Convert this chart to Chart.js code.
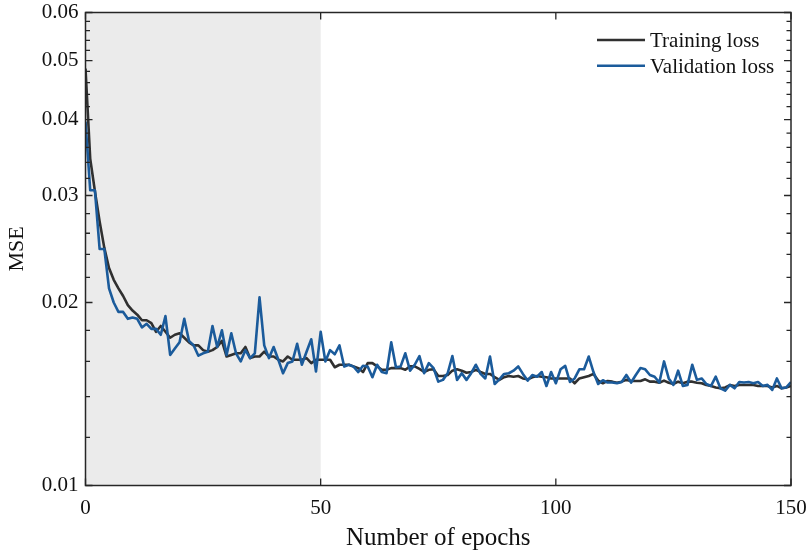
<!DOCTYPE html>
<html><head><meta charset="utf-8">
<script src="https://cdn.jsdelivr.net/npm/chart.js@4.4.0/dist/chart.umd.min.js"></script>
<style>html,body{margin:0;padding:0;background:#fff;}#wrap{width:810px;height:553px;}</style>
</head><body><div id="wrap"><canvas id="c" width="810" height="553"></canvas></div>
<script>
// ---- data ----
const epochs = Array.from({length: 151}, (_, i) => i);
const trainingLoss = [
0.0485,0.0345,0.0305,0.0272,0.0246,0.0228,0.0218,0.0211,0.0205,0.0198,
0.0194,0.0191,0.0187,0.0187,0.0185,0.0179,0.0183,0.0179,0.0175,0.0177,
0.0178,0.0175,0.0172,0.0170,0.0170,0.0167,0.0166,0.0167,0.0169,0.0173,
0.0163,0.0164,0.0165,0.0165,0.0169,0.0162,0.0163,0.0163,0.0166,0.0163,
0.0163,0.0161,0.0160,0.0163,0.0161,0.0161,0.0161,0.0162,0.0159,0.0161,
0.0161,0.0161,0.0161,0.01565,0.0158,0.0158,0.0158,0.0157,0.0156,0.01537,
0.0159,0.0159,0.0157,0.0155,0.0155,0.0156,0.0156,0.0156,0.0155,0.0157,
0.0157,0.01555,0.01537,0.0155,0.01553,0.01514,0.01514,0.0152,0.01545,0.01553,
0.01545,0.01533,0.01537,0.0155,0.01537,0.01526,0.01526,0.01507,0.01492,0.01507,
0.01514,0.0151,0.01514,0.0150,0.01495,0.01507,0.01514,0.0151,0.01507,0.0150,
0.0150,0.0150,0.0150,0.0150,0.01473,0.0150,0.01507,0.01514,0.01526,0.01488,
0.01473,0.01486,0.01482,0.01476,0.01482,0.01492,0.01486,0.01486,0.01486,0.01495,
0.01482,0.01482,0.01476,0.01488,0.01476,0.01469,0.01482,0.01473,0.01482,0.01482,
0.01476,0.01473,0.01463,0.01458,0.0145,0.01445,0.0145,0.01463,0.01458,0.01463,
0.01463,0.01463,0.01463,0.01458,0.01458,0.01458,0.0145,0.01458,0.01445,0.0145,
0.01458
];
const validationLoss = [
0.0397,0.0306,0.0306,0.0245,0.0245,0.0211,0.0200,0.0193,0.0193,0.0188,
0.0189,0.0188,0.0182,0.01845,0.0181,0.0181,0.0177,0.0190,0.0164,0.0168,
0.0172,0.0188,0.0173,0.0170,0.01635,0.0165,0.0166,0.0183,0.0169,0.0180,
0.0164,0.0178,0.0165,0.0160,0.0167,0.0162,0.0165,0.0204,0.0170,0.0162,
0.0169,0.0161,0.0153,0.0159,0.0160,0.0171,0.0158,0.0166,0.0174,0.0154,
0.0179,0.0160,0.0167,0.01644,0.0170,0.01569,0.0158,0.01569,0.01537,0.01574,
0.0157,0.01507,0.0158,0.01537,0.0153,0.0172,0.01565,0.0157,0.0165,0.01545,
0.0158,0.01633,0.0153,0.0159,0.0156,0.01482,0.01492,0.0153,0.01633,0.01492,
0.0153,0.01492,0.0153,0.0158,0.01526,0.0150,0.0163,0.01469,0.01495,0.01526,
0.0153,0.01545,0.0157,0.01526,0.01488,0.0152,0.0151,0.01537,0.01458,0.01537,
0.01473,0.01553,0.01573,0.0148,0.0150,0.01553,0.01553,0.0163,0.01537,0.01469,
0.0149,0.01477,0.01477,0.01473,0.0148,0.0152,0.01477,0.0152,0.0156,0.01553,
0.0152,0.0151,0.01477,0.0160,0.0150,0.01464,0.01545,0.01458,0.01464,0.0158,
0.01492,0.0150,0.01469,0.01458,0.0151,0.01445,0.01432,0.01464,0.01445,0.0148,
0.01477,0.0148,0.01473,0.0148,0.01458,0.01464,0.01436,0.0150,0.01445,0.0145,
0.0148
];
const seriesNames = ['Training loss', 'Validation loss'];
const yMajorTicks = [0.01, 0.02, 0.03, 0.04, 0.05, 0.06];
const yMinorTicks = [0.012,0.014,0.016,0.018,0.022,0.024,0.026,0.028,0.032,0.034,0.036,0.038,
  0.042,0.044,0.046,0.048,0.052,0.054,0.056,0.058];
const yTickLabels = ['0.01','0.02','0.03','0.04','0.05','0.06'];
const xTicks = [0, 50, 100, 150];
const shadeRange = [0, 50];

// ---- styles ----
const trainColor = '#303030';
const valColor = '#1b5b9b';
const frameColor = '#262626';
const FONT = '"Liberation Serif", "Times New Roman", serif';

const bgPlugin = {
  id: 'bgShade',
  beforeDraw(chart) {
    const {ctx} = chart;
    ctx.save(); ctx.fillStyle = '#ffffff'; ctx.fillRect(0, 0, chart.width, chart.height); ctx.restore();
  },
  beforeDatasetsDraw(chart) {
    const {ctx, chartArea: a, scales: {x}} = chart;
    const x0 = x.getPixelForValue(shadeRange[0]), x1 = x.getPixelForValue(shadeRange[1]);
    ctx.save(); ctx.fillStyle = '#ebebeb';
    ctx.fillRect(x0, a.top, x1 - x0, a.bottom - a.top);
    ctx.restore();
  },
  afterDatasetsDraw(chart) {
    const {ctx, chartArea: a, scales: {x, y}} = chart;
    ctx.save();
    ctx.strokeStyle = frameColor; ctx.lineWidth = 1.3;
    ctx.beginPath();
    const tick = (px0, py0, px1, py1) => { ctx.moveTo(px0, py0); ctx.lineTo(px1, py1); };
    yMajorTicks.forEach(v => { const p = y.getPixelForValue(v); tick(a.left, p, a.left + 7, p); tick(a.right, p, a.right - 7, p); });
    yMinorTicks.forEach(v => { const p = y.getPixelForValue(v); tick(a.left, p, a.left + 4.5, p); tick(a.right, p, a.right - 4.5, p); });
    xTicks.forEach(v => { const p = x.getPixelForValue(v); tick(p, a.bottom, p, a.bottom - 7); tick(p, a.top, p, a.top + 7); });
    ctx.stroke();
    ctx.lineWidth = 1.5;
    ctx.strokeRect(a.left, a.top, a.right - a.left, a.bottom - a.top);
    // legend
    const colors = [trainColor, valColor];
    ctx.font = '21px ' + FONT;
    ctx.textBaseline = 'alphabetic';
    ctx.fillStyle = '#111';
    seriesNames.forEach((name, i) => {
      const ly = a.top + 27.5 + i * 25.7;
      ctx.strokeStyle = colors[i]; ctx.lineWidth = 2.6;
      ctx.beginPath(); ctx.moveTo(a.right - 194, ly); ctx.lineTo(a.right - 146, ly); ctx.stroke();
      ctx.fillText(name, a.right - 141, ly + 7);
    });
    ctx.restore();
  }
};

new Chart(document.getElementById('c'), {
  type: 'line',
  data: {
    datasets: [
      { label: seriesNames[0], data: epochs.map((e, i) => ({x: e, y: trainingLoss[i]})),
        borderColor: trainColor, borderWidth: 2.6, pointRadius: 0, tension: 0, order: 2, borderJoinStyle: 'round' },
      { label: seriesNames[1], data: epochs.map((e, i) => ({x: e, y: validationLoss[i]})),
        borderColor: valColor, borderWidth: 2.6, pointRadius: 0, tension: 0, order: 1, borderJoinStyle: 'round' }
    ]
  },
  options: {
    responsive: false, animation: false, devicePixelRatio: 1,
    layout: { padding: { top: 12.5, right: 19, left: 0, bottom: 0 } },
    plugins: { legend: { display: false }, tooltip: { enabled: false } },
    scales: {
      x: {
        type: 'linear', min: 0, max: 150,
        afterBuildTicks: s => { s.ticks = xTicks.map(v => ({value: v})); },
        afterFit: s => { s.height = 67.5; s.paddingLeft = 0; s.paddingRight = 0; },
        grid: { display: false, drawTicks: false }, border: { display: false },
        ticks: { padding: 10, color: '#111', font: { family: FONT, size: 21 }, maxRotation: 0, autoSkip: false },
        title: { display: true, text: 'Number of epochs', color: '#111', font: { family: FONT, size: 25 }, padding: { top: 0, bottom: 0 } }
      },
      y: {
        type: 'logarithmic', min: 0.01, max: 0.06,
        afterBuildTicks: s => { s.ticks = yMajorTicks.map(v => ({value: v, major: true})); },
        afterFit: s => { s.width = 85.5; s.paddingTop = 0; s.paddingBottom = 0; },
        grid: { display: false, drawTicks: false }, border: { display: false },
        ticks: { padding: 7, color: '#111', font: { family: FONT, size: 21 }, autoSkip: false,
          callback: (v) => { const k = yMajorTicks.indexOf(v); return k >= 0 ? yTickLabels[k] : ''; } },
        title: { display: true, text: 'MSE', color: '#111', font: { family: FONT, size: 22 }, padding: { top: 4, bottom: 0 } }
      }
    }
  },
  plugins: [bgPlugin]
});
</script></body></html>
